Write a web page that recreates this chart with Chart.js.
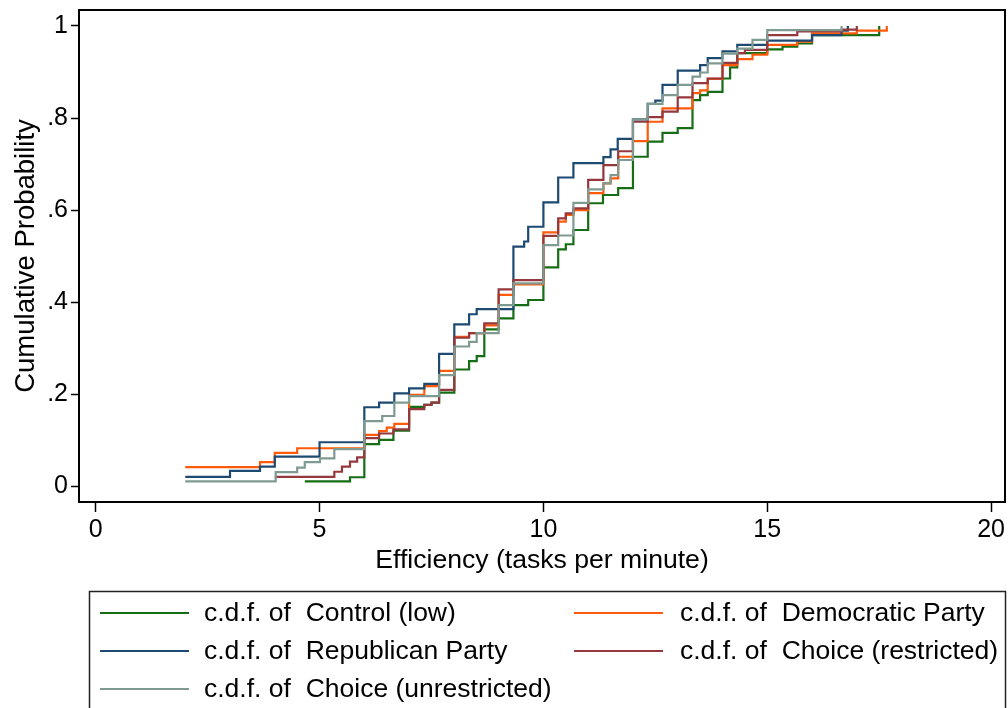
<!DOCTYPE html>
<html>
<head>
<meta charset="utf-8">
<script src="https://cdn.jsdelivr.net/npm/chart.js@4/dist/chart.umd.min.js"></script>
<style>
  html, body { margin: 0; padding: 0; background: #ffffff; }
  canvas { display: block; }
</style>
</head>
<body>
<canvas id="c" width="1008" height="708"></canvas>
<script>
// ---- data ----
const seriesNames = ['Control (low)', 'Democratic Party', 'Republican Party', 'Choice (restricted)', 'Choice (unrestricted)'];
const legendPrefix = 'c.d.f. of  ';

const controlX = [4.67, 5.68, 6.0, 6.33, 6.65, 7.0, 7.34, 7.5, 7.67, 8.01, 8.34, 8.51, 8.68, 9.0, 9.33, 9.66, 10.0, 10.33, 10.5, 10.67, 11.0, 11.33, 11.67, 12.0, 12.33, 12.66, 13.0, 13.33, 13.5, 13.67, 14.0, 14.17, 14.33, 15.0, 15.34, 15.67, 16.0, 17.5];
const controlY = [0.011, 0.020, 0.092, 0.101, 0.121, 0.173, 0.177, 0.182, 0.204, 0.254, 0.272, 0.283, 0.341, 0.365, 0.394, 0.405, 0.476, 0.515, 0.526, 0.557, 0.615, 0.633, 0.648, 0.716, 0.749, 0.768, 0.778, 0.839, 0.850, 0.857, 0.886, 0.910, 0.941, 0.949, 0.955, 0.962, 0.980, 1.0];

const democratX = [2.0, 3.67, 4.0, 4.5, 6.0, 6.33, 6.5, 6.67, 7.0, 7.34, 7.67, 8.01, 8.34, 8.68, 9.0, 9.33, 10.0, 10.33, 10.5, 10.67, 11.0, 11.34, 11.5, 11.67, 12.0, 12.33, 12.66, 13.33, 13.5, 13.67, 14.0, 14.33, 14.67, 15.0, 15.67, 16.0, 17.0, 17.67];
const democratY = [0.042, 0.053, 0.073, 0.083, 0.112, 0.120, 0.128, 0.136, 0.199, 0.218, 0.251, 0.325, 0.333, 0.350, 0.416, 0.439, 0.552, 0.575, 0.590, 0.600, 0.637, 0.658, 0.669, 0.716, 0.750, 0.792, 0.821, 0.854, 0.860, 0.885, 0.915, 0.928, 0.938, 0.959, 0.966, 0.984, 0.990, 1.0];

const republicanX = [2.0, 3.0, 3.67, 4.0, 5.0, 6.0, 6.33, 6.67, 7.0, 7.34, 7.67, 8.01, 8.34, 8.51, 9.33, 9.57, 9.66, 10.0, 10.33, 10.67, 11.34, 11.5, 11.66, 12.0, 12.33, 12.5, 12.66, 13.0, 13.5, 13.67, 14.0, 14.33, 15.0, 16.0, 16.66, 16.8];
const republicanY = [0.021, 0.034, 0.043, 0.065, 0.096, 0.172, 0.182, 0.202, 0.213, 0.223, 0.288, 0.352, 0.374, 0.385, 0.521, 0.532, 0.564, 0.617, 0.671, 0.702, 0.715, 0.732, 0.755, 0.797, 0.831, 0.838, 0.872, 0.903, 0.915, 0.930, 0.945, 0.959, 0.968, 0.980, 0.990, 1.0];

const restrictedX = [4.0, 5.33, 5.5, 5.68, 5.84, 6.0, 6.33, 6.65, 7.0, 7.34, 7.5, 7.67, 8.01, 8.34, 8.68, 9.0, 9.33, 10.0, 10.33, 10.5, 10.67, 11.0, 11.34, 11.67, 12.0, 12.33, 12.66, 13.0, 13.33, 13.67, 14.0, 14.33, 14.5, 15.0, 15.67, 16.66, 17.0];
const restrictedY = [0.021, 0.032, 0.043, 0.054, 0.063, 0.105, 0.115, 0.124, 0.168, 0.177, 0.182, 0.210, 0.323, 0.333, 0.354, 0.428, 0.448, 0.544, 0.582, 0.593, 0.604, 0.666, 0.698, 0.728, 0.792, 0.802, 0.814, 0.845, 0.876, 0.886, 0.920, 0.941, 0.948, 0.980, 0.988, 0.992, 1.0];

const unrestrictedX = [2.0, 4.02, 4.5, 4.67, 5.01, 5.33, 6.0, 6.4, 6.67, 7.0, 7.67, 8.01, 8.34, 8.51, 9.0, 9.33, 10.0, 10.33, 10.67, 11.0, 11.34, 11.5, 11.67, 12.0, 12.33, 12.66, 13.0, 13.33, 13.5, 13.67, 14.0, 14.33, 14.67, 15.0, 16.66];
const unrestrictedY = [0.011, 0.031, 0.041, 0.053, 0.061, 0.081, 0.142, 0.153, 0.182, 0.196, 0.242, 0.304, 0.314, 0.333, 0.394, 0.441, 0.524, 0.545, 0.616, 0.645, 0.658, 0.676, 0.709, 0.797, 0.831, 0.850, 0.872, 0.890, 0.899, 0.919, 0.940, 0.951, 0.970, 0.991, 1.0];

const xTickValues = [0, 5, 10, 15, 20];
const xTickLabels = ['0', '5', '10', '15', '20'];
const yTickValues = [0, 0.2, 0.4, 0.6, 0.8, 1];
const yTickLabels = ['0', '.2', '.4', '.6', '.8', '1'];

const xTitle = 'Efficiency (tasks per minute)';
const yTitle = 'Cumulative Probability';

// ---- styling ----
const colors = ['#156d15', '#ff5a0a', '#1d4a72', '#94383e', '#7f9b91'];
const FONT = 'Liberation Sans, Arial, Helvetica, sans-serif';
const FS_TICK = 25;
const FS_TITLE = 26.6;
const FS_YTITLE = 27.5;
const FS_LEGEND = 26.5;

function pts(xs, ys) { return xs.map((x, i) => ({ x: x, y: ys[i] })); }
const seriesData = [
  pts(controlX, controlY),
  pts(democratX, democratY),
  pts(republicanX, republicanY),
  pts(restrictedX, restrictedY),
  pts(unrestrictedX, unrestrictedY)
];

// Chart.js draws dataset 0 on top, so add in reverse order (last series on top)
const datasets = [];
for (let i = seriesNames.length - 1; i >= 0; i--) {
  datasets.push({
    label: seriesNames[i],
    data: seriesData[i],
    borderColor: colors[i],
    backgroundColor: colors[i],
    borderWidth: 2.2,
    pointRadius: 0,
    stepped: 'before',
    fill: false,
    tension: 0
  });
}

const framePlugin = {
  id: 'frameLegend',
  afterDraw(chart) {
    const ctx = chart.ctx;
    const a = chart.chartArea;
    ctx.save();
    ctx.strokeStyle = '#000';
    ctx.lineWidth = 2;
    ctx.strokeRect(a.left, a.top, a.right - a.left, a.bottom - a.top);

    // legend box
    ctx.lineWidth = 1.5;
    ctx.strokeStyle = '#222';
    ctx.strokeRect(89.5, 591.5, 916, 140);
    const rows = [613, 651, 689];
    const cols = [{ l0: 100, l1: 189, t: 204 }, { l0: 574, l1: 663, t: 680 }];
    ctx.font = FS_LEGEND + 'px ' + FONT;
    ctx.textBaseline = 'middle';
    ctx.textAlign = 'left';
    for (let i = 0; i < seriesNames.length; i++) {
      const r = Math.floor(i / 2), c = i % 2;
      const y = rows[r];
      ctx.strokeStyle = colors[i];
      ctx.lineWidth = 2.2;
      ctx.beginPath();
      ctx.moveTo(cols[c].l0, y);
      ctx.lineTo(cols[c].l1, y);
      ctx.stroke();
      ctx.fillStyle = '#000';
      ctx.fillText(legendPrefix + seriesNames[i], cols[c].t, y + 1);
    }
    ctx.restore();
  }
};

new Chart(document.getElementById('c'), {
  type: 'line',
  data: { datasets: datasets },
  options: {
    responsive: false,
    animation: false,
    devicePixelRatio: 1,
    layout: { padding: { left: 0, top: 10, right: 3, bottom: 131 } },
    plugins: { legend: { display: false }, tooltip: { enabled: false } },
    scales: {
      x: {
        type: 'linear',
        min: -0.373,
        max: 20.31,
        afterBuildTicks: (s) => { s.ticks = xTickValues.map(v => ({ value: v })); },
        afterFit: (s) => { s.height = 75; s.paddingLeft = 0; s.paddingRight = 0; },
        ticks: {
          callback: (v) => { const k = xTickValues.indexOf(v); return k >= 0 ? xTickLabels[k] : ''; },
          font: { family: FONT, size: FS_TICK },
          color: '#000',
          padding: 3,
          maxRotation: 0,
          autoSkip: false
        },
        grid: { display: true, drawOnChartArea: false, drawTicks: true, tickLength: 10, tickWidth: 1.5, tickColor: '#000', color: '#000' },
        border: { display: false },
        title: { display: true, text: xTitle, color: '#000', font: { family: FONT, size: FS_TITLE }, padding: { top: 0, bottom: 0 } }
      },
      y: {
        type: 'linear',
        min: -0.0337,
        max: 1.0347,
        afterBuildTicks: (s) => { s.ticks = yTickValues.map(v => ({ value: v })); },
        afterFit: (s) => { s.width = 79; s.paddingTop = 0; s.paddingBottom = 0; },
        ticks: {
          callback: (v) => { const k = yTickValues.indexOf(v); return k >= 0 ? yTickLabels[k] : ''; },
          font: { family: FONT, size: FS_TICK },
          color: '#000',
          padding: 3,
          autoSkip: false
        },
        grid: { display: true, drawOnChartArea: false, drawTicks: true, tickLength: 8, tickWidth: 1.5, tickColor: '#000', color: '#000' },
        border: { display: false },
        title: { display: true, text: yTitle, color: '#000', font: { family: FONT, size: FS_YTITLE }, padding: { top: 10, bottom: 0 } }
      }
    }
  },
  plugins: [framePlugin]
});
</script>
</body>
</html>
